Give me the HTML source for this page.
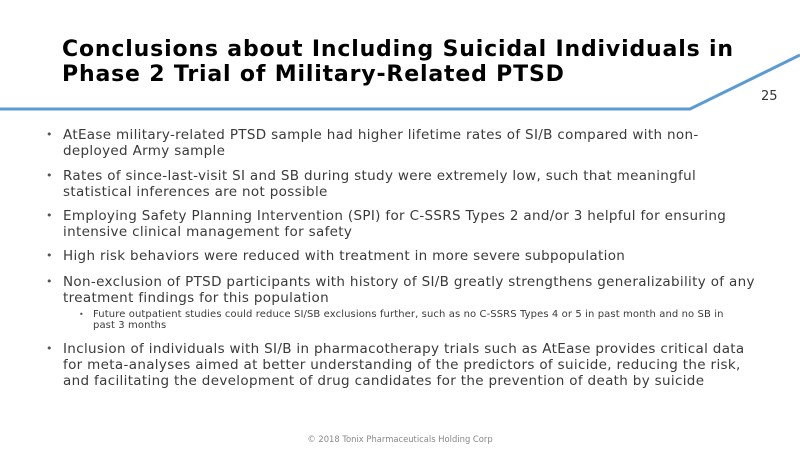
<!DOCTYPE html>
<html><head><meta charset="utf-8"><style>
body{margin:0;width:800px;height:449px;background:#fff;position:relative;overflow:hidden;font-family:"DejaVu Sans","Liberation Sans",sans-serif;color:#333}
.t{position:absolute;left:62px;font-weight:bold;font-size:22px;color:#000;white-space:nowrap;letter-spacing:0.83px}
.l{position:absolute;left:63px;font-size:13.5px;letter-spacing:0.33px;white-space:nowrap;line-height:16px;color:#3a3a3a}
.b{position:absolute;left:46px;font-size:11px;color:#555}
.s{position:absolute;left:93px;font-size:10px;letter-spacing:0.1px;white-space:nowrap;line-height:11px;color:#3a3a3a}
.sb{position:absolute;left:79px;font-size:8px;color:#555}
</style></head><body>
<svg style="position:absolute;left:0;top:0" width="800" height="449"><polyline points="0,109 690,109 800,55" fill="none" stroke="#5b9bd5" stroke-width="3"/></svg>
<div class="t" style="top:37px">Conclusions about Including Suicidal Individuals in</div>
<div class="t" style="top:62px">Phase 2 Trial of Military-Related PTSD</div>
<div style="position:absolute;left:761px;top:89px;font-size:13px;color:#333">25</div>

<div class="b" style="top:128px">•</div>
<div class="l" style="top:127px">AtEase military-related PTSD sample had higher lifetime rates of SI/B compared with non-<br>deployed Army sample</div>
<div class="b" style="top:169px">•</div>
<div class="l" style="top:168px">Rates of since-last-visit SI and SB during study were extremely low, such that meaningful<br>statistical inferences are not possible</div>
<div class="b" style="top:209px">•</div>
<div class="l" style="top:208px">Employing Safety Planning Intervention (SPI) for C-SSRS Types 2 and/or 3 helpful for ensuring<br>intensive clinical management for safety</div>
<div class="b" style="top:249px">•</div>
<div class="l" style="top:248px">High risk behaviors were reduced with treatment in more severe subpopulation</div>
<div class="b" style="top:275px">•</div>
<div class="l" style="top:274px">Non-exclusion of PTSD participants with history of SI/B greatly strengthens generalizability of any<br>treatment findings for this population</div>
<div class="sb" style="top:310px">•</div>
<div class="s" style="top:309px">Future outpatient studies could reduce SI/SB exclusions further, such as no C-SSRS Types 4 or 5 in past month and no SB in<br>past 3 months</div>
<div class="b" style="top:342px">•</div>
<div class="l" style="top:341px">Inclusion of individuals with SI/B in pharmacotherapy trials such as AtEase provides critical data<br>for meta-analyses aimed at better understanding of the predictors of suicide, reducing the risk,<br>and facilitating the development of drug candidates for the prevention of death by suicide</div>

<div style="position:absolute;left:0;width:800px;top:434px;text-align:center;font-size:8.4px;color:#888">© 2018 Tonix Pharmaceuticals Holding Corp</div>
</body></html>
